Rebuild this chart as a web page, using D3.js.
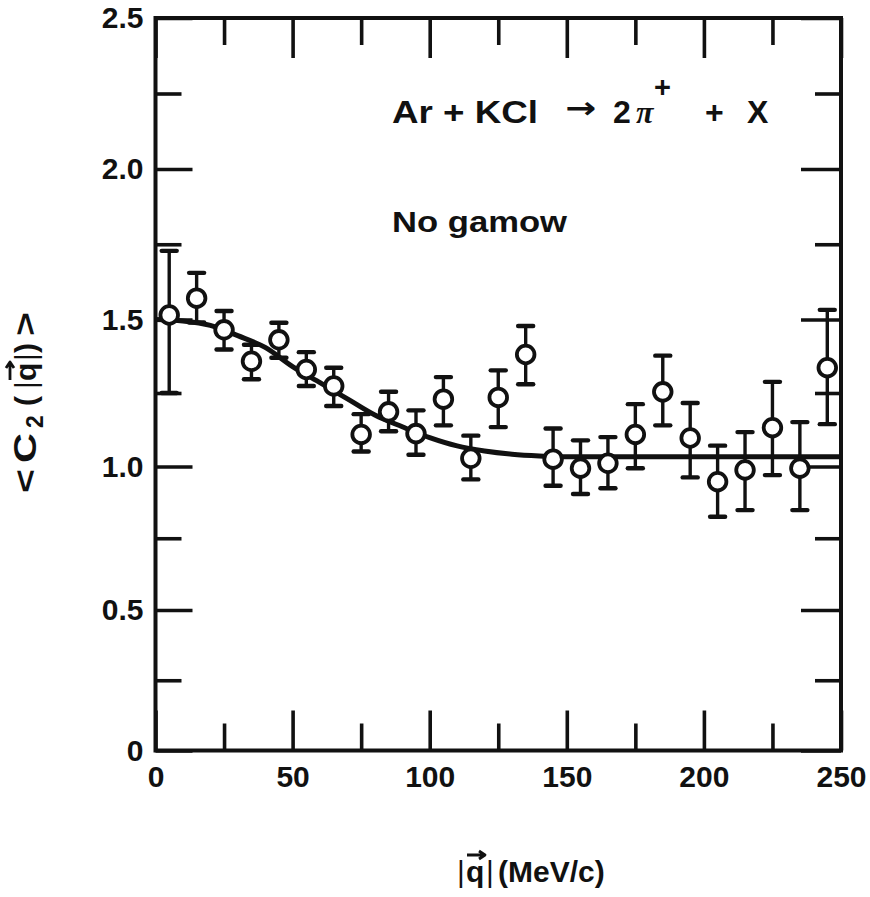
<!DOCTYPE html>
<html><head><meta charset="utf-8">
<script src="https://cdn.jsdelivr.net/npm/d3@7"></script>
<style>body{margin:0;background:#fff} svg{display:block}</style>
</head><body><svg id="c" width="870" height="897"></svg>
<script>
// ---- data ----
const qBins = [5,15,25,35,45,55,65,75,85,95,105,115,125,135,145,155,165,175,185,195,205,215,225,235,245];
const c2    = [1.515,1.571,1.465,1.358,1.431,1.330,1.274,1.109,1.186,1.112,1.229,1.028,1.235,1.381,1.025,0.994,1.011,1.109,1.254,1.097,0.947,0.988,1.132,0.994,1.336];
const c2Hi  = [1.728,1.655,1.528,1.414,1.489,1.389,1.336,1.178,1.254,1.191,1.304,1.105,1.327,1.478,1.129,1.089,1.100,1.212,1.377,1.216,1.071,1.117,1.288,1.151,1.532];
const c2Lo  = [1.250,1.490,1.398,1.297,1.370,1.274,1.206,1.051,1.120,1.040,1.140,0.955,1.134,1.280,0.933,0.904,0.924,0.994,1.140,0.962,0.825,0.848,0.970,0.848,1.144];
const fitQ  = [0,10,20,30,40,50,60,70,80,90,100,110,120,130,140,150,250];
const fitC2 = [1.50,1.495,1.48,1.445,1.405,1.34,1.285,1.23,1.175,1.135,1.098,1.07,1.053,1.042,1.036,1.033,1.033];
const xMajor = [0,50,100,150,200,250];
const xMinor = [25,75,125,175,225];
const yMajor = [0,0.5,1.0,1.5,2.0,2.5];
const yMinor = [0.25,0.75,1.25,1.75,2.25];
const yTickLabels = ["0","0.5","1.0","1.5","2.0","2.5"];

const INK = "#111";
const FONT = "'Liberation Sans', Arial, Helvetica, sans-serif";
const svg = d3.select("#c");

const x = d3.scaleLinear().domain([0,250]).range([155.5,841]);
// polylinear scale following the (slightly uneven) printed axis
const y = d3.scaleLinear().domain(yMajor).range([750.5,610,466.5,319.5,169,18]);

const X0 = x(0), X1 = x(250), Y0 = y(0), Y1 = y(2.5);

function styleAxis(g){
  g.select(".domain").remove();
  g.selectAll("line").attr("stroke",INK).attr("stroke-width",3.6);
  g.selectAll("text").attr("fill",INK).attr("font-family",FONT).attr("font-weight","bold").attr("font-size",30);
}

// bottom
svg.append("g").attr("transform",`translate(0,${Y0})`)
  .call(d3.axisBottom(x).tickValues(xMajor).tickSizeInner(-40).tickSizeOuter(0).tickPadding(15).tickFormat(d3.format("d")))
  .call(styleAxis);
svg.append("g").attr("transform",`translate(0,${Y0})`)
  .call(d3.axisBottom(x).tickValues(xMinor).tickSizeInner(-27).tickSizeOuter(0).tickFormat(""))
  .call(styleAxis);
// top
svg.append("g").attr("transform",`translate(0,${Y1})`)
  .call(d3.axisTop(x).tickValues(xMajor).tickSizeInner(-40).tickSizeOuter(0).tickFormat(""))
  .call(styleAxis);
svg.append("g").attr("transform",`translate(0,${Y1})`)
  .call(d3.axisTop(x).tickValues(xMinor).tickSizeInner(-27).tickSizeOuter(0).tickFormat(""))
  .call(styleAxis);
// left
svg.append("g").attr("transform",`translate(${X0},0)`)
  .call(d3.axisLeft(y).tickValues(yMajor).tickSizeInner(-37).tickSizeOuter(0).tickPadding(12).tickFormat((d,i)=>yTickLabels[i]))
  .call(styleAxis);
svg.append("g").attr("transform",`translate(${X0},0)`)
  .call(d3.axisLeft(y).tickValues(yMinor).tickSizeInner(-26).tickSizeOuter(0).tickFormat(""))
  .call(styleAxis);
// right
svg.append("g").attr("transform",`translate(${X1},0)`)
  .call(d3.axisRight(y).tickValues(yMajor).tickSizeInner(-40).tickSizeOuter(0).tickFormat(""))
  .call(styleAxis);
svg.append("g").attr("transform",`translate(${X1},0)`)
  .call(d3.axisRight(y).tickValues(yMinor).tickSizeInner(-26).tickSizeOuter(0).tickFormat(""))
  .call(styleAxis);

// frame
svg.append("rect").attr("x",X0).attr("y",Y1).attr("width",X1-X0).attr("height",Y0-Y1)
  .attr("fill","none").attr("stroke",INK).attr("stroke-width",4);

// fit curve
const fit = fitQ.map((q,i)=>[q,fitC2[i]]);
svg.append("path").datum(fit)
  .attr("d", d3.line().x(d=>x(d[0])).y(d=>y(d[1])).curve(d3.curveMonotoneX))
  .attr("fill","none").attr("stroke",INK).attr("stroke-width",5);

// error bars
const pts = qBins.map((q,i)=>({q, c:c2[i], hi:c2Hi[i], lo:c2Lo[i]}));
const eb = svg.append("g").attr("stroke",INK);
eb.selectAll("line.v").data(pts).join("line").attr("class","v")
  .attr("x1",d=>x(d.q)).attr("x2",d=>x(d.q)).attr("y1",d=>y(d.hi)).attr("y2",d=>y(d.lo))
  .attr("stroke-width",3.4);
eb.selectAll("line.t").data(pts).join("line").attr("class","t")
  .attr("x1",d=>x(d.q)-7.5).attr("x2",d=>x(d.q)+7.5).attr("y1",d=>y(d.hi)).attr("y2",d=>y(d.hi))
  .attr("stroke-width",4.4).attr("stroke-linecap","round");
eb.selectAll("line.b").data(pts).join("line").attr("class","b")
  .attr("x1",d=>x(d.q)-7.5).attr("x2",d=>x(d.q)+7.5).attr("y1",d=>y(d.lo)).attr("y2",d=>y(d.lo))
  .attr("stroke-width",4.4).attr("stroke-linecap","round");

// points
svg.append("g").selectAll("circle").data(pts).join("circle")
  .attr("cx",d=>x(d.q)).attr("cy",d=>y(d.c)).attr("r",8.8)
  .attr("fill","#fff").attr("stroke",INK).attr("stroke-width",3.8);

// annotations
function txt(g, s, xx, yy, size, opts={}){
  const t = g.append("text").attr("x",xx).attr("y",yy).text(s)
    .attr("font-family",opts.family||FONT).attr("font-weight",opts.weight||"bold")
    .attr("font-size",size).attr("fill",INK);
  if(opts.style) t.attr("font-style",opts.style);
  if(opts.len) t.attr("textLength",opts.len).attr("lengthAdjust","spacingAndGlyphs");
  return t;
}
txt(svg,"Ar + KCl",392,123,32,{len:146});
txt(svg,"\u2192",565,118,30,{family:"'DejaVu Sans', sans-serif",len:31});
txt(svg,"2",613,123,32);
txt(svg,"\u03c0",636,123,32,{family:"'Liberation Serif', serif",style:"italic"});
txt(svg,"+",654,97,29);
txt(svg,"+",705,123,32);
txt(svg,"X",747,123,32);
txt(svg,"No gamow",392,232,30,{len:175});

// x-axis title  |q| (MeV/c)
const xt = svg.append("g");
txt(xt,"|",457,882,30,{weight:"normal"});
txt(xt,"q",466,882,30);
txt(xt,"|",486,882,30,{weight:"normal"});
txt(xt,"(MeV/c)",498,882,30);
function arrow(g, xa, xb, yy){
  g.append("path").attr("d",`M${xa},${yy}H${xb}M${xb-6},${yy-4}L${xb},${yy}L${xb-6},${yy+4}`)
    .attr("fill","none").attr("stroke",INK).attr("stroke-width",2.8).attr("stroke-linejoin","round");
}
arrow(xt, 467, 485, 855);

// y-axis title <C2 (|q|)>
const yt = svg.append("g").attr("transform","translate(36,493) rotate(-90)");
txt(yt,"<",0,0,32,{len:24});
txt(yt,"C",30,0,32,{len:30});
txt(yt,"2",65,7,23);
txt(yt,"(",87,0,30);
txt(yt,"|",104,0,30,{weight:"normal"});
txt(yt,"q",112,0,30);
txt(yt,"|",132,0,30,{weight:"normal"});
txt(yt,")",140,0,30);
txt(yt,">",157,0,32,{len:24});
arrow(yt, 113, 131, -26);
</script>
</body></html>
